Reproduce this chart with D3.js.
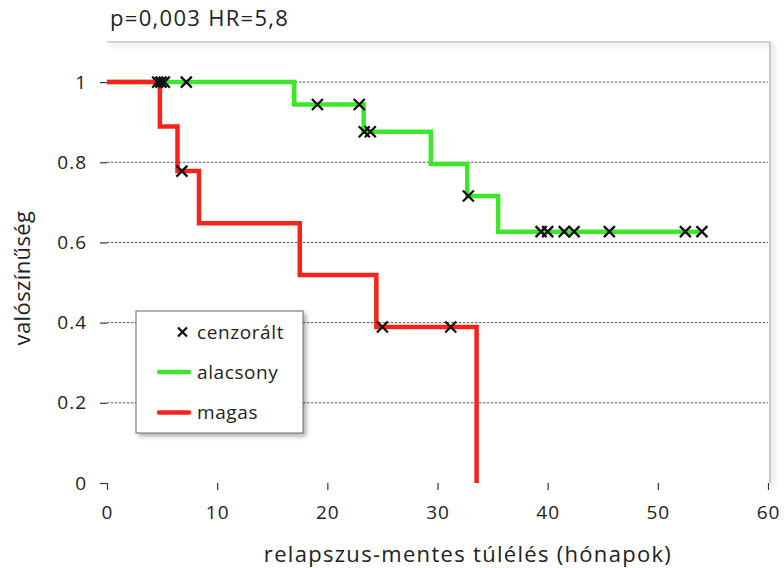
<!DOCTYPE html>
<html><head><meta charset="utf-8">
<script src="https://cdn.jsdelivr.net/npm/d3@7"></script>
<style>body{margin:0;background:#fff}svg{display:block}text{font-family:"Open Sans",sans-serif;fill:#222}</style>
</head><body>
<script>
const xTicks = [0, 10, 20, 30, 40, 50, 60];
const yTicks = [0, 0.2, 0.4, 0.6, 0.8, 1];
const gridValues = [0.2, 0.4, 0.6, 0.8, 1];

const greenTimes = [0, 17.0, 23.3, 29.4, 32.7, 35.5];
const greenSurv  = [1, 0.944, 0.876, 0.796, 0.716, 0.627];
const greenEnd = 54.0;
const greenCensor = [4.6, 4.9, 5.2, 7.2, 19.1, 22.9, 23.35, 23.9, 32.8, 39.4, 40.0, 41.5, 42.4, 45.6, 52.5, 54.0];

const redTimes = [0, 4.8, 6.4, 8.35, 17.5, 24.45, 33.55];
const redSurv  = [1, 0.889, 0.778, 0.648, 0.519, 0.389, 0];
const redCensor = [6.8, 25.0, 31.2];

const legendLabels = ["cenzorált", "alacsony", "magas"];
const title = "p=0,003 HR=5,8";
const xLabel = "relapszus-mentes túlélés (hónapok)";
const yLabel = "valószínűség";

const W = 784, H = 568;
const M = {l: 107, r: 768, t: 42, b: 483};
const GREEN = "#3ce62a", RED = "#f5231b";

const svg = d3.select("body").append("svg").attr("width", W).attr("height", H);
const defs = svg.append("defs");
const f = defs.append("filter").attr("id", "sh").attr("x", "-10%").attr("y", "-10%").attr("width", "130%").attr("height", "130%");
f.append("feDropShadow").attr("dx", 3).attr("dy", 3).attr("stdDeviation", 2).attr("flood-color", "#000").attr("flood-opacity", 0.3);

const x = d3.scaleLinear().domain([0, 60]).range([M.l, M.r]);
const y = d3.scaleLinear().domain([0, 1.1]).range([M.b, M.t]);

// frame (top & right) with shadow
svg.append("path")
  .attr("d", `M${M.l},${M.t}H${M.r+2}V${M.b}`)
  .attr("fill", "none").attr("stroke", "#aaa").attr("stroke-width", 1.2)
  .attr("filter", "url(#sh)");

// grid
svg.append("g").selectAll("line").data(gridValues).join("line")
  .attr("x1", M.l).attr("x2", M.r)
  .attr("y1", d => y(d)).attr("y2", d => y(d))
  .attr("stroke", "#555").attr("stroke-width", 1).attr("stroke-dasharray", "2.5,1.5");

// axes
const xAxis = svg.append("g").attr("transform", `translate(0,${M.b})`)
  .call(d3.axisBottom(x).tickValues(xTicks).tickSize(7).tickPadding(16).tickSizeOuter(0));
const yAxis = svg.append("g").attr("transform", `translate(${M.l},0)`)
  .call(d3.axisLeft(y).tickValues(yTicks).tickSize(7).tickPadding(13).tickSizeOuter(0)
    .tickFormat(d => d === 0 ? "0" : d === 1 ? "1" : d3.format(".1f")(d)));
[xAxis, yAxis].forEach(a => {
  a.select(".domain").attr("stroke", "#333").attr("stroke-width", 1.5).attr("filter", "url(#sh)");
  a.selectAll(".tick line").attr("stroke", "#333").attr("stroke-width", 1.2);
  a.selectAll(".tick text").style("font-size", "19px").style("fill", "#222")
    .style("font-family", '"Open Sans",sans-serif').style("letter-spacing", "1px");
});
yAxis.select(".domain").attr("d", `M0,${M.t}V${M.b}`);
xAxis.select(".domain").attr("d", `M${M.l},0H${M.r+2}`);

// curves
function stepPoints(times, surv, end) {
  const pts = times.map((t, i) => [t, surv[i]]);
  pts.push([end, surv[surv.length - 1]]);
  return pts;
}
function survAt(times, surv, t) {
  let s = surv[0];
  for (let i = 0; i < times.length; i++) if (t >= times[i]) s = surv[i];
  return s;
}
const line = d3.line().x(d => x(d[0])).y(d => y(d[1])).curve(d3.curveStepAfter);

svg.append("path").datum(stepPoints(greenTimes, greenSurv, greenEnd))
  .attr("d", line).attr("fill", "none").attr("stroke", GREEN).attr("stroke-width", 4.5);

const redPts = redTimes.map((t, i) => [t, redSurv[i]]);
svg.append("path").datum(redPts)
  .attr("d", line).attr("fill", "none").attr("stroke", RED).attr("stroke-width", 4.5);

// censor marks
function cross(g, cx, cy, s) {
  g.append("path").attr("d", `M${cx-s},${cy-s}L${cx+s},${cy+s}M${cx-s},${cy+s}L${cx+s},${cy-s}`)
    .attr("stroke", "#111").attr("stroke-width", 2.3).attr("fill", "none");
}
const cg = svg.append("g");
greenCensor.forEach(t => cross(cg, x(t), y(survAt(greenTimes, greenSurv, t)), 5.5));
redCensor.forEach(t => cross(cg, x(t), y(survAt(redTimes, redSurv, t)), 5.5));

// legend
const lg = svg.append("g");
lg.append("rect").attr("x", 136).attr("y", 311).attr("width", 167).attr("height", 122)
  .attr("fill", "#fff").attr("stroke", "#666").attr("stroke-width", 1).attr("filter", "url(#sh)");
cross(lg, 182.5, 332, 4.5);
lg.append("line").attr("x1", 159).attr("x2", 189).attr("y1", 372).attr("y2", 372).attr("stroke", GREEN).attr("stroke-width", 4.5).attr("stroke-linecap", "round");
lg.append("line").attr("x1", 159).attr("x2", 189).attr("y1", 412.5).attr("y2", 412.5).attr("stroke", RED).attr("stroke-width", 4.5).attr("stroke-linecap", "round");
[332, 372, 412.5].forEach((yy, i) => {
  lg.append("text").attr("x", 197).attr("y", yy).attr("dy", "0.35em")
    .style("font-size", "19px").style("letter-spacing", "0.6px").text(legendLabels[i]);
});

// title and labels
svg.append("text").attr("x", 110).attr("y", 26).style("font-size", "22px").style("letter-spacing", "1.3px").text(title);
svg.append("text").attr("x", 468).attr("y", 562).attr("text-anchor", "middle")
  .style("font-size", "22px").style("letter-spacing", "1.3px").text(xLabel);
svg.append("text").attr("transform", "translate(30,278) rotate(-90)").attr("text-anchor", "middle")
  .style("font-size", "22px").style("letter-spacing", "0.4px").text(yLabel);
</script>
</body></html>
